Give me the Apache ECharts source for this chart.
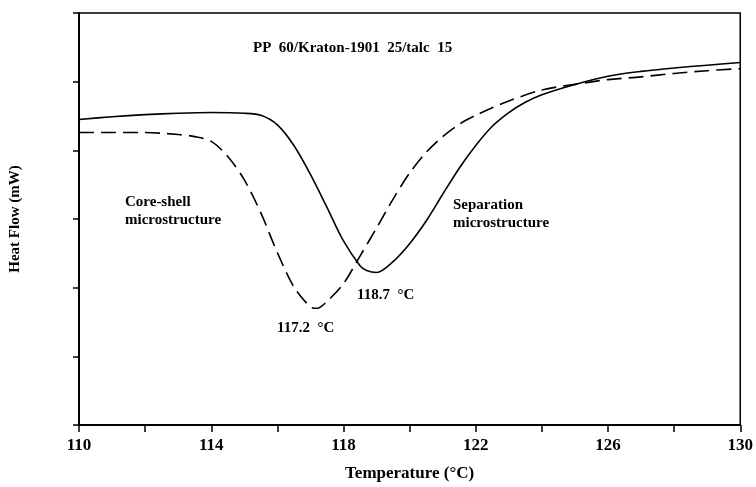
<!DOCTYPE html>
<html>
<head>
<meta charset="utf-8">
<script src="https://cdn.jsdelivr.net/npm/echarts@6/dist/echarts.min.js"></script>
<style>html,body{margin:0;padding:0;background:#fff}#c{width:756px;height:487px}</style>
</head>
<body>
<div id="c"></div>
<script>
// Temperatures (°C)
var sepT = [110,111,112,113,114,115,115.5,116,116.5,117,117.5,118,118.5,118.7,119,119.5,120,120.5,121,121.5,122,122.5,123,123.5,124,125,126,127,128,129,130];
// Separation microstructure (solid) heat flow, arbitrary units
var sepV = [4.45,4.49,4.52,4.54,4.55,4.54,4.51,4.37,4.07,3.65,3.17,2.68,2.32,2.25,2.22,2.38,2.64,2.97,3.36,3.74,4.07,4.35,4.55,4.70,4.81,4.96,5.08,5.15,5.20,5.24,5.28];
// Core-shell microstructure (dashed)
var coreT = [110,111,112,113,113.5,114,114.5,115,115.5,116,116.5,117,117.2,117.5,118,118.5,119,119.5,120,120.5,121,121.5,122,122.5,123,124,125,126,127,128,129,130];
var coreV = [4.26,4.26,4.26,4.23,4.20,4.13,3.91,3.57,3.09,2.51,2.01,1.72,1.70,1.80,2.06,2.46,2.87,3.29,3.67,3.97,4.20,4.38,4.51,4.62,4.72,4.88,4.96,5.03,5.07,5.12,5.16,5.19];
var xTicks = [110,114,118,122,126,130];

function pairs(t,v){return t.map(function(x,i){return [x,v[i]];});}
var serif = "'Liberation Serif','DejaVu Serif',serif";
var chart = echarts.init(document.getElementById('c'));
chart.setOption({
  animation:false,
  backgroundColor:'#fff',
  grid:{left:79,right:14,top:13,bottom:60,show:true,borderColor:'#000',borderWidth:1.5,backgroundColor:'transparent'},
  xAxis:{type:'value',min:110,max:130,interval:2,
    name:'Temperature (°C)',nameLocation:'middle',nameGap:40,
    nameTextStyle:{fontFamily:serif,fontWeight:'bold',fontSize:17,color:'#000'},
    axisLine:{show:true,onZero:false,lineStyle:{color:'#000',width:2}},
    axisTick:{show:true,length:7,lineStyle:{color:'#000',width:1.5}},
    splitLine:{show:false},
    axisLabel:{margin:12,fontFamily:serif,fontWeight:'bold',fontSize:17,color:'#000',
      formatter:function(v){return xTicks.indexOf(v)>=0?String(v):'';}}
  },
  yAxis:{type:'value',min:0,max:6,interval:1,
    name:'Heat Flow (mW)',nameLocation:'middle',nameGap:56,nameRotate:90,
    nameTextStyle:{fontFamily:serif,fontWeight:'bold',fontSize:15,color:'#000'},
    axisLine:{show:true,onZero:false,lineStyle:{color:'#000',width:2}},
    axisTick:{show:true,length:6,lineStyle:{color:'#000',width:1.5}},
    axisLabel:{show:false},splitLine:{show:false}
  },
  series:[
    {type:'line',data:pairs(sepT,sepV),smooth:0.3,showSymbol:false,
      lineStyle:{color:'#000',width:1.6}},
    {type:'line',data:pairs(coreT,coreV),smooth:0.3,showSymbol:false,
      lineStyle:{color:'#000',width:1.6,type:[15,7]}}
  ],
  graphic:[
    {type:'text',left:253,top:41,style:{text:'PP  60/Kraton-1901  25/talc  15',font:'bold 15px '+serif,fill:'#000'}},
    {type:'text',left:125,top:193,style:{text:'Core-shell\nmicrostructure',font:'bold 15px '+serif,fill:'#000',lineHeight:18}},
    {type:'text',left:453,top:196,style:{text:'Separation\nmicrostructure',font:'bold 15px '+serif,fill:'#000',lineHeight:18}},
    {type:'text',left:357,top:288,style:{text:'118.7  °C',font:'bold 15px '+serif,fill:'#000'}},
    {type:'text',left:277,top:321,style:{text:'117.2  °C',font:'bold 15px '+serif,fill:'#000'}}
  ]
});
</script>
</body>
</html>
